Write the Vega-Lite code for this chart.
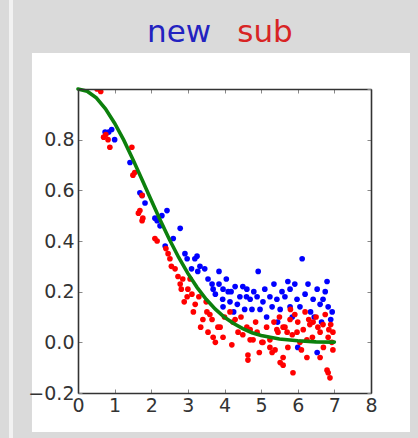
{
  "$schema": "https://vega.github.io/schema/vega-lite/v6.json",
  "width": 293,
  "height": 304,
  "autosize": {"type": "none"},
  "padding": {"left": 78, "top": 89, "right": 47, "bottom": 45},
  "background": "#dadada",
  "config": {
    "view": {"stroke": null},
    "axis": {
      "grid": false,
      "title": null,
      "domainColor": "#333333",
      "domainWidth": 1.6,
      "tickColor": "#888888",
      "tickWidth": 1,
      "tickSize": -4,
      "labelFont": "DejaVu Sans",
      "labelFontSize": 19,
      "labelColor": "#333333",
      "labelFlush": false,
      "labelOverlap": false
    }
  },
  "datasets": {
    "scatter": [
      {"series": "new", "x": 0.74, "y": 0.83}, {"series": "new", "x": 0.84, "y": 0.83}, {"series": "new", "x": 0.92, "y": 0.84}, {"series": "new", "x": 1.0, "y": 0.8},
      {"series": "new", "x": 1.42, "y": 0.71}, {"series": "new", "x": 1.69, "y": 0.59}, {"series": "new", "x": 1.75, "y": 0.58}, {"series": "new", "x": 1.83, "y": 0.55},
      {"series": "new", "x": 2.1, "y": 0.49}, {"series": "new", "x": 2.29, "y": 0.5}, {"series": "new", "x": 2.43, "y": 0.52}, {"series": "new", "x": 2.16, "y": 0.48},
      {"series": "new", "x": 2.24, "y": 0.46}, {"series": "new", "x": 2.38, "y": 0.38}, {"series": "new", "x": 2.79, "y": 0.45}, {"series": "new", "x": 2.92, "y": 0.35},
      {"series": "new", "x": 3.19, "y": 0.33}, {"series": "new", "x": 3.25, "y": 0.34}, {"series": "new", "x": 3.33, "y": 0.3}, {"series": "new", "x": 3.46, "y": 0.29},
      {"series": "new", "x": 3.27, "y": 0.28}, {"series": "new", "x": 3.85, "y": 0.28}, {"series": "new", "x": 3.66, "y": 0.23}, {"series": "new", "x": 3.69, "y": 0.21},
      {"series": "new", "x": 3.96, "y": 0.21}, {"series": "new", "x": 4.1, "y": 0.2}, {"series": "new", "x": 4.29, "y": 0.22}, {"series": "new", "x": 4.61, "y": 0.21},
      {"series": "new", "x": 4.92, "y": 0.28}, {"series": "new", "x": 4.7, "y": 0.17}, {"series": "new", "x": 4.89, "y": 0.18}, {"series": "new", "x": 5.05, "y": 0.16},
      {"series": "new", "x": 4.42, "y": 0.18}, {"series": "new", "x": 4.15, "y": 0.16}, {"series": "new", "x": 3.96, "y": 0.14}, {"series": "new", "x": 5.24, "y": 0.18},
      {"series": "new", "x": 5.43, "y": 0.17}, {"series": "new", "x": 5.52, "y": 0.13}, {"series": "new", "x": 5.73, "y": 0.24}, {"series": "new", "x": 5.92, "y": 0.23},
      {"series": "new", "x": 5.79, "y": 0.21}, {"series": "new", "x": 6.12, "y": 0.33}, {"series": "new", "x": 6.28, "y": 0.23}, {"series": "new", "x": 6.42, "y": 0.17},
      {"series": "new", "x": 6.53, "y": 0.21}, {"series": "new", "x": 6.61, "y": 0.15}, {"series": "new", "x": 6.8, "y": 0.24}, {"series": "new", "x": 6.69, "y": 0.17},
      {"series": "new", "x": 6.83, "y": 0.14}, {"series": "new", "x": 6.94, "y": 0.12}, {"series": "new", "x": 5.98, "y": 0.17}, {"series": "new", "x": 6.06, "y": 0.14},
      {"series": "new", "x": 5.79, "y": 0.14}, {"series": "new", "x": 6.0, "y": -0.02}, {"series": "new", "x": 6.53, "y": -0.04}, {"series": "new", "x": 4.97, "y": 0.13},
      {"series": "new", "x": 4.75, "y": 0.13}, {"series": "new", "x": 5.3, "y": 0.14}, {"series": "new", "x": 5.57, "y": 0.2}, {"series": "new", "x": 3.75, "y": 0.19},
      {"series": "new", "x": 3.95, "y": 0.17}, {"series": "new", "x": 4.05, "y": 0.25}, {"series": "new", "x": 4.18, "y": 0.2}, {"series": "new", "x": 4.35, "y": 0.15},
      {"series": "new", "x": 4.5, "y": 0.22}, {"series": "new", "x": 4.55, "y": 0.13}, {"series": "new", "x": 3.55, "y": 0.25}, {"series": "new", "x": 3.1, "y": 0.29},
      {"series": "new", "x": 2.98, "y": 0.33}, {"series": "new", "x": 2.6, "y": 0.41}, {"series": "new", "x": 4.8, "y": 0.2}, {"series": "new", "x": 5.1, "y": 0.21},
      {"series": "new", "x": 5.35, "y": 0.23}, {"series": "new", "x": 5.65, "y": 0.18}, {"series": "new", "x": 6.2, "y": 0.19}, {"series": "new", "x": 6.35, "y": 0.12},
      {"series": "new", "x": 6.75, "y": 0.2}, {"series": "new", "x": 6.9, "y": 0.09}, {"series": "new", "x": 5.85, "y": 0.1}, {"series": "new", "x": 6.45, "y": 0.1},
      {"series": "new", "x": 5.15, "y": 0.1}, {"series": "new", "x": 4.25, "y": 0.12}, {"series": "new", "x": 3.85, "y": 0.23}, {"series": "new", "x": 6.65, "y": 0.08},
      {"series": "new", "x": 5.45, "y": 0.08}, {"series": "new", "x": 4.6, "y": 0.18},

      {"series": "sub", "x": 0.52, "y": 1.0}, {"series": "sub", "x": 0.62, "y": 0.99}, {"series": "sub", "x": 0.7, "y": 0.81}, {"series": "sub", "x": 0.76, "y": 0.82},
      {"series": "sub", "x": 0.82, "y": 0.8}, {"series": "sub", "x": 0.87, "y": 0.77}, {"series": "sub", "x": 1.47, "y": 0.77}, {"series": "sub", "x": 1.5, "y": 0.66},
      {"series": "sub", "x": 1.55, "y": 0.67}, {"series": "sub", "x": 1.75, "y": 0.58}, {"series": "sub", "x": 1.65, "y": 0.51}, {"series": "sub", "x": 1.69, "y": 0.52},
      {"series": "sub", "x": 1.77, "y": 0.49}, {"series": "sub", "x": 1.75, "y": 0.48}, {"series": "sub", "x": 2.16, "y": 0.4}, {"series": "sub", "x": 2.1, "y": 0.41},
      {"series": "sub", "x": 2.46, "y": 0.35}, {"series": "sub", "x": 2.51, "y": 0.33}, {"series": "sub", "x": 2.65, "y": 0.29}, {"series": "sub", "x": 2.73, "y": 0.26},
      {"series": "sub", "x": 2.86, "y": 0.25}, {"series": "sub", "x": 2.79, "y": 0.23}, {"series": "sub", "x": 3.0, "y": 0.21}, {"series": "sub", "x": 3.11, "y": 0.19},
      {"series": "sub", "x": 2.98, "y": 0.18}, {"series": "sub", "x": 2.82, "y": 0.21}, {"series": "sub", "x": 3.06, "y": 0.25}, {"series": "sub", "x": 3.41, "y": 0.09},
      {"series": "sub", "x": 3.52, "y": 0.12}, {"series": "sub", "x": 3.66, "y": 0.09}, {"series": "sub", "x": 3.69, "y": 0.02}, {"series": "sub", "x": 3.88, "y": 0.06},
      {"series": "sub", "x": 4.15, "y": 0.12}, {"series": "sub", "x": 4.29, "y": 0.09}, {"series": "sub", "x": 4.37, "y": 0.04}, {"series": "sub", "x": 4.61, "y": 0.06},
      {"series": "sub", "x": 4.64, "y": -0.05}, {"series": "sub", "x": 4.64, "y": -0.07}, {"series": "sub", "x": 4.7, "y": 0.01}, {"series": "sub", "x": 4.89, "y": 0.04},
      {"series": "sub", "x": 5.05, "y": 0.0}, {"series": "sub", "x": 5.24, "y": -0.02}, {"series": "sub", "x": 5.3, "y": -0.04}, {"series": "sub", "x": 5.52, "y": -0.08},
      {"series": "sub", "x": 5.43, "y": 0.05}, {"series": "sub", "x": 5.6, "y": 0.06}, {"series": "sub", "x": 5.79, "y": 0.09}, {"series": "sub", "x": 5.92, "y": 0.11},
      {"series": "sub", "x": 5.87, "y": -0.12}, {"series": "sub", "x": 5.71, "y": 0.04}, {"series": "sub", "x": 5.98, "y": 0.04}, {"series": "sub", "x": 6.15, "y": 0.05},
      {"series": "sub", "x": 6.25, "y": 0.01}, {"series": "sub", "x": 6.33, "y": 0.07}, {"series": "sub", "x": 6.42, "y": 0.08}, {"series": "sub", "x": 6.61, "y": 0.04},
      {"series": "sub", "x": 6.69, "y": 0.07}, {"series": "sub", "x": 6.83, "y": 0.02}, {"series": "sub", "x": 6.96, "y": 0.04}, {"series": "sub", "x": 6.93, "y": 0.0},
      {"series": "sub", "x": 6.96, "y": -0.03}, {"series": "sub", "x": 6.83, "y": -0.12}, {"series": "sub", "x": 6.8, "y": -0.11}, {"series": "sub", "x": 6.61, "y": -0.06},
      {"series": "sub", "x": 6.25, "y": -0.06}, {"series": "sub", "x": 5.6, "y": -0.06}, {"series": "sub", "x": 6.06, "y": 0.0}, {"series": "sub", "x": 3.6, "y": 0.11},
      {"series": "sub", "x": 3.82, "y": 0.06}, {"series": "sub", "x": 3.96, "y": 0.02}, {"series": "sub", "x": 4.23, "y": 0.08}, {"series": "sub", "x": 4.5, "y": 0.03},
      {"series": "sub", "x": 4.78, "y": 0.01}, {"series": "sub", "x": 5.02, "y": 0.0}, {"series": "sub", "x": 5.24, "y": 0.01}, {"series": "sub", "x": 5.46, "y": 0.04},
      {"series": "sub", "x": 5.65, "y": 0.06}, {"series": "sub", "x": 5.38, "y": -0.03}, {"series": "sub", "x": 5.6, "y": -0.09}, {"series": "sub", "x": 5.73, "y": -0.02},
      {"series": "sub", "x": 3.2, "y": 0.15}, {"series": "sub", "x": 3.3, "y": 0.18}, {"series": "sub", "x": 3.15, "y": 0.12}, {"series": "sub", "x": 3.5, "y": 0.16},
      {"series": "sub", "x": 3.35, "y": 0.06}, {"series": "sub", "x": 4.0, "y": 0.1}, {"series": "sub", "x": 4.45, "y": 0.1}, {"series": "sub", "x": 4.85, "y": 0.08},
      {"series": "sub", "x": 5.15, "y": 0.06}, {"series": "sub", "x": 5.5, "y": 0.1}, {"series": "sub", "x": 6.0, "y": 0.08}, {"series": "sub", "x": 6.5, "y": 0.1},
      {"series": "sub", "x": 6.75, "y": 0.11}, {"series": "sub", "x": 6.9, "y": 0.07}, {"series": "sub", "x": 6.2, "y": 0.12}, {"series": "sub", "x": 5.85, "y": 0.03},
      {"series": "sub", "x": 6.4, "y": 0.02}, {"series": "sub", "x": 6.7, "y": -0.02}, {"series": "sub", "x": 6.1, "y": -0.03}, {"series": "sub", "x": 4.95, "y": -0.04},
      {"series": "sub", "x": 4.2, "y": -0.01}, {"series": "sub", "x": 3.75, "y": 0.0}, {"series": "sub", "x": 2.55, "y": 0.3}, {"series": "sub", "x": 2.4, "y": 0.37},
      {"series": "sub", "x": 2.9, "y": 0.16}, {"series": "sub", "x": 3.55, "y": 0.04}, {"series": "sub", "x": 5.35, "y": 0.08}, {"series": "sub", "x": 6.55, "y": 0.06},
      {"series": "sub", "x": 6.85, "y": 0.05}, {"series": "sub", "x": 4.7, "y": 0.05}, {"series": "sub", "x": 5.8, "y": 0.13}, {"series": "sub", "x": 6.3, "y": 0.09},
      {"series": "sub", "x": 6.88, "y": -0.14}
    ],
    "fit": [
      {"x": 0.0, "y": 1.0}, {"x": 0.25, "y": 0.991}, {"x": 0.5, "y": 0.965}, {"x": 0.75, "y": 0.922},
      {"x": 1.0, "y": 0.865}, {"x": 1.25, "y": 0.798}, {"x": 1.5, "y": 0.722}, {"x": 1.75, "y": 0.642},
      {"x": 2.0, "y": 0.561}, {"x": 2.25, "y": 0.481}, {"x": 2.5, "y": 0.405}, {"x": 2.75, "y": 0.335},
      {"x": 3.0, "y": 0.272}, {"x": 3.25, "y": 0.217}, {"x": 3.5, "y": 0.17}, {"x": 3.75, "y": 0.131},
      {"x": 4.0, "y": 0.099}, {"x": 4.25, "y": 0.074}, {"x": 4.5, "y": 0.054}, {"x": 4.75, "y": 0.038},
      {"x": 5.0, "y": 0.027}, {"x": 5.5, "y": 0.013}, {"x": 6.0, "y": 0.006}, {"x": 6.5, "y": 0.002},
      {"x": 7.0, "y": 0.001}
    ]
  },
  "layer": [
    {
      "data": {"values": [{}]},
      "mark": {"type": "rect", "color": "#f2f2f2"},
      "encoding": {
        "x": {"datum": -1.884, "type": "quantitative", "scale": {"domain": [0, 8], "nice": false, "zero": false}, "axis": null},
        "x2": {"datum": -1.775},
        "y": {"datum": 1.351, "type": "quantitative", "scale": {"domain": [-0.2, 1.0], "nice": false, "zero": false}, "axis": null},
        "y2": {"datum": -0.378}
      }
    },
    {
      "data": {"values": [{}]},
      "mark": {"type": "rect", "color": "#ffffff"},
      "encoding": {
        "x": {"datum": -1.257, "type": "quantitative", "axis": null},
        "x2": {"datum": 9.065},
        "y": {"datum": 1.142, "type": "quantitative", "axis": null},
        "y2": {"datum": -0.354}
      }
    },
    {
      "data": {"values": [{}]},
      "mark": {"type": "text", "text": "new", "font": "DejaVu Sans", "fontSize": 31, "color": "#2222c0", "align": "center", "baseline": "alphabetic"},
      "encoding": {
        "x": {"datum": 2.758, "type": "quantitative", "axis": null},
        "y": {"datum": 1.1855, "type": "quantitative", "axis": null}
      }
    },
    {
      "data": {"values": [{}]},
      "mark": {"type": "text", "text": "sub", "font": "DejaVu Sans", "fontSize": 31, "color": "#d82424", "align": "center", "baseline": "alphabetic"},
      "encoding": {
        "x": {"datum": 5.106, "type": "quantitative", "axis": null},
        "y": {"datum": 1.1855, "type": "quantitative", "axis": null}
      }
    },
    {
      "data": {"name": "scatter"},
      "mark": {"type": "point", "filled": true, "shape": "circle", "size": 32, "opacity": 1, "clip": true},
      "encoding": {
        "x": {"field": "x", "type": "quantitative", "axis": {"orient": "bottom", "zindex": 1, "values": [0, 1, 2, 3, 4, 5, 6, 7, 8], "format": "d", "labelPadding": 7}},
        "y": {"field": "y", "type": "quantitative", "axis": {"orient": "left", "zindex": 1, "values": [-0.2, 0, 0.2, 0.4, 0.6, 0.8], "format": ".1f", "labelPadding": 8}},
        "color": {"field": "series", "type": "nominal", "scale": {"domain": ["new", "sub"], "range": ["#0000ff", "#ff0000"]}, "legend": null}
      }
    },
    {
      "data": {"name": "fit"},
      "mark": {"type": "line", "color": "#0c800c", "strokeWidth": 3.6, "strokeCap": "round"},
      "encoding": {
        "x": {"field": "x", "type": "quantitative", "axis": {"orient": "top", "zindex": 1, "values": [0, 1, 2, 3, 4, 5, 6, 7, 8], "labels": false}},
        "y": {"field": "y", "type": "quantitative", "axis": {"orient": "right", "zindex": 1, "values": [-0.2, 0, 0.2, 0.4, 0.6, 0.8, 1.0], "labels": false}}
      }
    }
  ],
  "resolve": {"axis": {"x": "independent", "y": "independent"}}
}
